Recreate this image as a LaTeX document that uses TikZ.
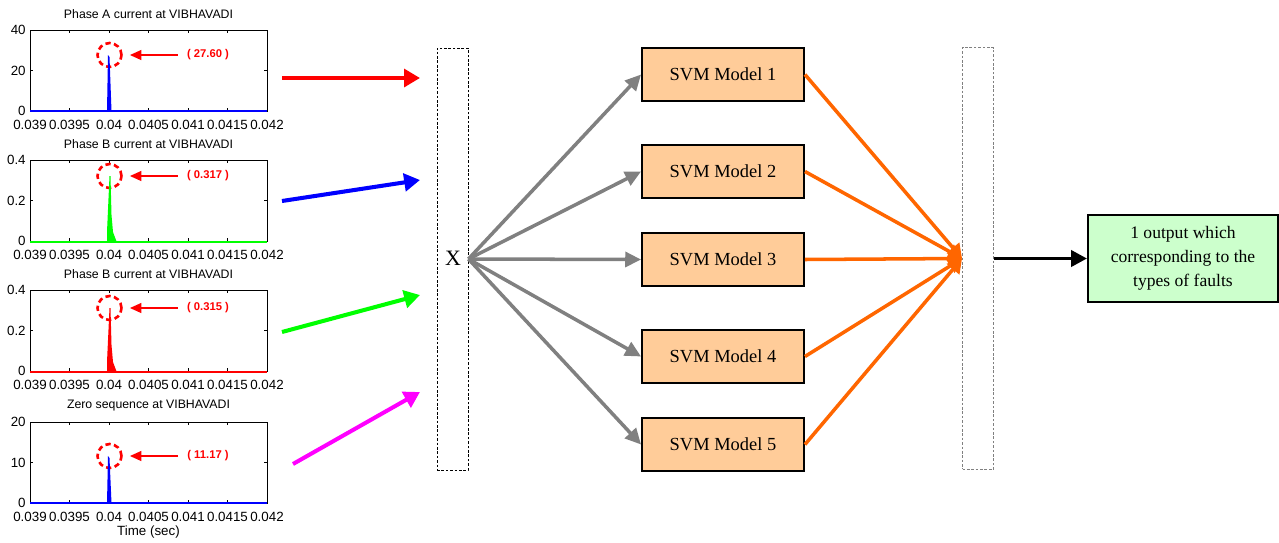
\documentclass[tikz,border=0pt]{standalone}
\usepackage{fontspec}
\setmainfont{Liberation Serif}
\newfontfamily\plotfont{Liberation Sans}
\usetikzlibrary{arrows.meta}
\definecolor{svmfill}{HTML}{FFCC99}
\definecolor{outfill}{HTML}{CCFFCC}
\definecolor{vote}{HTML}{FF6600}
\definecolor{feedgray}{HTML}{808080}
\definecolor{zeroseq}{HTML}{FF00FF}

\begin{document}
\begin{tikzpicture}[x=0.02cm, y=-0.02cm,
    axis/.style={draw, line width=0.5pt},
    ttl/.style={font=\plotfont\fontsize{7}{8}\selectfont},
    ticklbl/.style={font=\plotfont\fontsize{7.6}{9}\selectfont, inner sep=0pt},
    ring/.style={circle, draw=red, dashed, dash pattern=on 3pt off 2pt, line width=1.5pt, minimum size=0.48cm, inner sep=0pt},
    peakval/.style={text=red, font=\plotfont\bfseries\fontsize{6.4}{8}\selectfont, inner sep=1pt},
    pointer/.style={red, line width=1.1pt, -{Triangle[length=6.5pt, width=5.5pt]}},
    feed/.style={line width=2.3pt, -{Triangle[length=9pt, width=10pt]}},
    bar/.style={rectangle, draw, dash pattern=on 1.5pt off 1pt, line width=0.5pt, minimum width=0.62cm, minimum height=8.44cm, inner sep=0pt},
    svm/.style={rectangle, draw, line width=1.1pt, fill=svmfill, minimum width=3.24cm, minimum height=1.06cm, font=\fontsize{10.5}{12}\selectfont},
    split/.style={feedgray, line width=2pt, -{Triangle[length=9pt, width=8.5pt]}},
    merge/.style={vote, line width=2pt, -{Triangle[length=8pt, width=9pt]}}
]
\useasboundingbox (0,0) rectangle (1279,542);

% the four measured signals
\foreach \top/\ttl/\ya/\yb/\pk/\val in {30/Phase A current at VIBHAVADI/40/20/55/27.60,
    160/Phase B current at VIBHAVADI/0.4/0.2/176/0.317,
    290/Phase B current at VIBHAVADI/0.4/0.2/308/0.315,
    422/Zero sequence at VIBHAVADI/20/10/456/11.17}{
  \pgfmathsetmacro\bot{\top+81}
  \draw[axis] (30,\top) rectangle (267,\bot);
  \node[ttl] at (148.5,\top-16) {\ttl};
  \node[ticklbl, anchor=east] at (26,\top) {\ya};
  \node[ticklbl, anchor=east] at (26,\top+40.5) {\yb};
  \node[ticklbl, anchor=east] at (26,\bot) {0};
  \draw[line width=0.4pt] (30,\top+40.5) -- ++(3,0) (267,\top+40.5) -- ++(-3,0);
  \foreach \t/\lab in {0/0.039, 1/0.0395, 2/0.04, 3/0.0405, 4/0.041, 5/0.0415, 6/0.042}{
    \draw[line width=0.4pt] (30+39.5*\t,\bot) -- ++(0,-3) (30+39.5*\t,\top) -- ++(0,3);
    \node[ticklbl] at (30+39.5*\t,\bot+14) {\lab};
  }
  \node[ring] (ring\top) at (109.5,\pk) {};
  \node[peakval] (val\top) at (208,\pk) {( \val\ )};
  \draw[pointer, shorten <=4pt, shorten >=4pt] (val\top.west) -- (ring\top.east);
}
\node[ttl, font=\plotfont\fontsize{7.6}{9}\selectfont] (tlabel) at (148.5,532) {Time (sec)};

\fill[blue] (107,111) -- (108,55) -- (109.5,57) -- (111.5,111) -- cycle;
\draw[blue, line width=1.2pt] (30,111) -- (267,111);
\fill[green] (107,242) -- (107,232) -- (109.5,176) -- (110.5,176) -- (111.5,215) -- (113,232) -- (116,240) -- (117,242) -- cycle;
\draw[green, line width=1.2pt] (30,242) -- (267,242);
\fill[red] (107,372) -- (107,362) -- (109.5,308) -- (110.5,308) -- (111.5,345) -- (113,362) -- (116,370) -- (117,372) -- cycle;
\draw[red, line width=1.2pt] (30,372) -- (267,372);
\fill[blue] (107,503) -- (108,456) -- (109.5,458) -- (111.5,503) -- cycle;
\draw[blue, line width=1.2pt] (30,503) -- (267,503);

% feature vector, models, voting
\node[bar] (inbar) at (452.5,259) {};
\node[font=\fontsize{12.5}{14}\selectfont] (xlbl) at (453,258) {X};
\node[bar, draw=feedgray] (outbar) at (978,258.5) {};

\coordinate (sa) at (282,78);  \coordinate (ea) at (420,78);
\coordinate (sb) at (282,201); \coordinate (eb) at (420,180);
\coordinate (sc) at (282,332); \coordinate (ec) at (420,295);
\coordinate (sd) at (293,464); \coordinate (ed) at (420,392);
\draw[feed, red] (sa) -- (ea);
\draw[feed, blue] (sb) -- (eb);
\draw[feed, green] (sc) -- (ec);
\draw[feed, zeroseq] (sd) -- (ed);

\foreach \i/\y in {1/74.5, 2/171.5, 3/259.5, 4/356.5, 5/444.5}{
  \node[svm] (svm\i) at (723,\y) {SVM Model \i};
  \draw[split] (inbar.east) -- (svm\i.west);
  \draw[merge] (svm\i.east) -- (outbar.west);
}

\node[rectangle, draw, line width=1.1pt, fill=outfill, minimum width=3.8cm, minimum height=1.74cm, align=center,
      font=\fontsize{10}{13.6}\selectfont] (out) at (1183,258.5) {1 output which\\corresponding to the\\types of faults};
\draw[line width=2.2pt, -{Triangle[length=9pt, width=9pt]}] (outbar.east) -- (out.west);

\end{tikzpicture}
\end{document}
